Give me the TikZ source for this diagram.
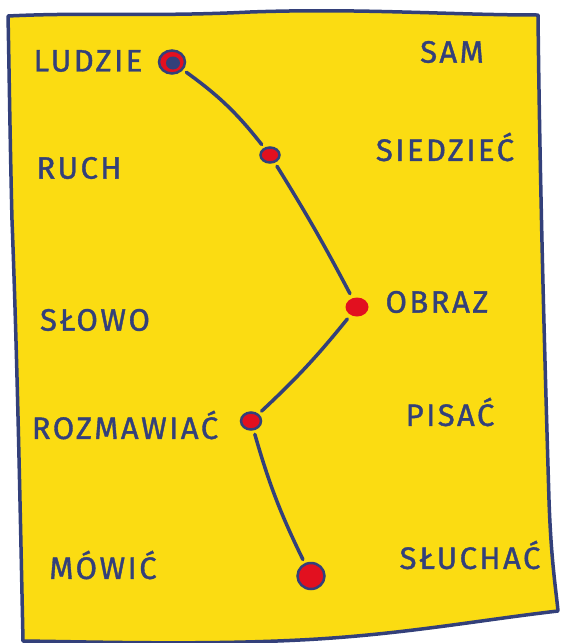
\documentclass[tikz,border=0pt]{standalone}
\usepackage{fontspec}
\setmainfont{Fira Sans}[LetterSpace=8,FakeBold=1.2]
\usetikzlibrary{shapes.geometric}
\definecolor{ink}{HTML}{33407A}
\definecolor{paper}{HTML}{FBDC12}
\definecolor{dotred}{HTML}{E2101F}
\tikzset{
  lbl/.style={text=ink,font=\fontsize{31}{31}\selectfont,inner sep=0pt},
  dot/.style={ellipse,fill=dotred,draw=ink,line width=2.5pt,inner sep=0pt},
  link/.style={draw=ink,line width=3.5pt,line cap=round,shorten <=4pt,shorten >=4pt},
}
\begin{document}
\begin{tikzpicture}[x=1pt,y=-1pt]
\useasboundingbox (0,0) rectangle (561,643);
% paper
\draw[ink,fill=paper,line width=3.5pt,line join=round]
  (8,16) .. controls (90,12) and (150,17) .. (250,12)
  .. controls (360,8) and (450,15) .. (538,15)
  .. controls (540,200) and (546,400) .. (549,500)
  .. controls (551,560) and (556,590) .. (558,611)
  .. controls (480,620) and (400,635) .. (300,640)
  .. controls (200,645) and (100,642) .. (23,641)
  .. controls (20,500) and (17,350) .. (12,220)
  .. controls (10,140) and (9,60) .. cycle;
% labels
\node[lbl] (t1) at (88,61) {LUDZIE};
\node[lbl] (t2) at (452,52) {SAM};
\node[lbl] (t3) at (79,168) {RUCH};
\node[lbl] (t4) at (445,147) {SIEDZIEĆ};
\node[lbl] (t5) at (95,320) {SŁOWO};
\node[lbl] (t6) at (437,302) {OBRAZ};
\node[lbl] (t7) at (125,425) {ROZMAWIAĆ};
\node[lbl] (t8) at (450,412) {PISAĆ};
\node[lbl] (t9) at (103,565) {MÓWIĆ};
\node[lbl] (t10) at (470,555) {SŁUCHAĆ};
% dots
\node[dot,minimum width=26pt,minimum height=23pt,fill=dotred] (d1) at (172,62) {};
\node[ellipse,fill=ink,minimum width=14pt,minimum height=13pt,inner sep=0pt] at (173,63) {};
\node[dot,minimum width=19pt,minimum height=15pt] (d2) at (270,155) {};
\node[dot,draw=none,minimum width=23pt,minimum height=19pt] (d3) at (357,307) {};
\node[dot,minimum width=20pt,minimum height=17pt] (d4) at (251,421) {};
\node[dot,minimum width=27pt,minimum height=26pt] (d5) at (311,576) {};
% links
\draw[link] (d1) to[bend left=8] (d2);
\draw[link] (d2) to[bend left=2] (d3);
\draw[link] (d3) to[bend left=4] (d4);
\draw[link] (d4) to[bend right=5] (d5);
\end{tikzpicture}
\end{document}
